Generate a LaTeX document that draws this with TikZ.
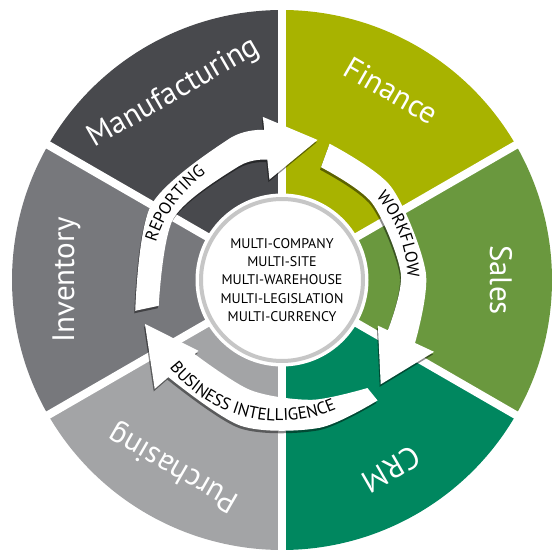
\documentclass[tikz,border=0pt]{standalone}
\usepackage{fontspec}
\setmainfont{PT Sans}
\usetikzlibrary{shadows,decorations.text}

\definecolor{manufacturing}{HTML}{48494D}
\definecolor{finance}{HTML}{A8B300}
\definecolor{sales}{HTML}{6A983E}
\definecolor{crm}{HTML}{00875F}
\definecolor{purchasing}{HTML}{A3A4A6}
\definecolor{inventory}{HTML}{77787C}
\definecolor{hubring}{HTML}{C6C6C6}

\newcommand{\flowfont}{\fontsize{17}{17}\selectfont}

\begin{document}
\begin{tikzpicture}[
    x=1pt, y=1pt,
    gapline/.style={
        white,
        line width=8pt
    },
    segname/.style={
        text=white,
        font=\fontsize{31}{31}\selectfont,
        anchor=base,
        inner sep=0pt
    },
    hub/.style={
        circle,
        fill=white,
        draw=hubring,
        line width=4pt,
        preaction={draw=white, line width=11pt},
        minimum size=162pt,
        inner sep=0pt,
        align=center,
        font=\fontsize{14}{18.3}\selectfont
    },
    flow/.style={
        fill=white,
        drop shadow={shadow xshift=-1pt, shadow yshift=-2.5pt, opacity=.45, fill=black}
    },
]
    \useasboundingbox (0,0) rectangle (560,560);
    \coordinate (O) at (282,280);

    % sectors
    \foreach \a/\col in {90/finance, 30/sales, -30/crm, -90/purchasing, -150/inventory, 150/manufacturing}
        \fill[\col] (O) -- ++(\a:270) arc[start angle=\a, end angle=\a-60, radius=270pt] -- cycle;
    \foreach \a in {90,30,-30,-90,-150,150}
        \draw[gapline] (O) -- ++(\a:276);

    % sector names
    \begin{scope}[shift={(O)}]
        \foreach \a/\txt/\nm in {120/Manufacturing/manuf, 60/Finance/fin, 0/Sales/sal,
                                 -60/CRM/crm, -120/Purchasing/purch, 180/Inventory/inv}
            \node (\nm) [segname, rotate=\a-90] at (\a:208) {\txt};
    \end{scope}

    \node (hub) [hub] at (O) {MULTI-COMPANY\\MULTI-SITE\\MULTI-WAREHOUSE\\MULTI-LEGISLATION\\MULTI-CURRENCY};

    % arrows
    \begin{scope}[shift={(280,280)}]
        \fill[flow] plot[smooth] coordinates {(192:148) (150:149) (110:150) (96:151)}
            -- (96:164) -- (75:145) -- (96:101)
            -- plot[smooth] coordinates {(96:121) (110:121) (150:123) (192:124)} -- cycle;
        \fill[flow] plot[smooth] coordinates {(70:145) (40:145) (3:146) (-25:149)}
            -- (-25:170) -- (-46:145) -- (-25:108)
            -- plot[smooth] coordinates {(-25:119) (3:121) (40:120) (70:120)} -- cycle;
        \fill[flow] plot[smooth] coordinates {(-51:155) (-75:153) (-105:151) (-139:148)}
            -- (-139:166) -- (-162:142) -- (-139:108)
            -- plot[smooth] coordinates {(-139:113) (-105:114) (-75:124) (-51:139)} -- cycle;

        \path[decorate, decoration={text along path, text align=center,
            text={|\flowfont|REPORTING}}]
            (185:129.5) arc[start angle=185, end angle=103, radius=129.5pt];
        \path[decorate, decoration={text along path, text align=center,
            text={|\flowfont|WORKFLOW}}]
            (62:127.5) arc[start angle=62, end angle=-20, radius=127.5pt];
        \path[decorate, decoration={text along path, text align=center,
            text={|\flowfont|BUSINESS INTELLIGENCE}}]
            (200:141) arc[start angle=200, end angle=312, radius=141pt];
    \end{scope}
\end{tikzpicture}
\end{document}
